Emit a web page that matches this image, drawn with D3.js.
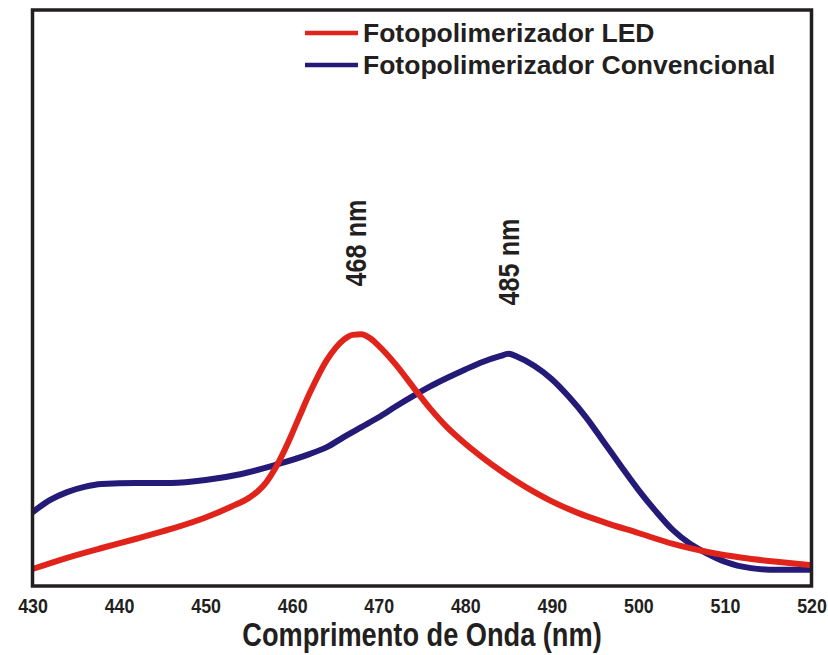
<!DOCTYPE html>
<html>
<head>
<meta charset="utf-8">
<script src="https://cdn.jsdelivr.net/npm/d3@7"></script>
<style>
  body { margin: 0; background: #fff; }
  svg { display: block; font-family: "Liberation Sans", Arial, sans-serif; font-weight: bold; }
</style>
</head>
<body>
<div id="chart"></div>
<script>
// wavelength (nm) and relative intensity
const ledNm = [430, 434, 438, 442, 446, 450, 453, 455, 456, 457, 458, 459, 460, 461, 462, 463, 464, 465, 466, 467, 468, 469, 470, 472, 474, 476, 478, 480, 482, 484, 486, 488, 490, 493, 496, 500, 504, 508, 512, 516, 520]
const ledVal = [2.95, 4.9, 6.6, 8.2, 9.9, 11.9, 13.8, 15.3, 16.4, 18.0, 20.3, 23.2, 26.5, 30.0, 33.4, 36.5, 39.2, 41.3, 42.8, 43.6, 43.7, 43.0, 41.7, 38.4, 34.5, 30.7, 27.4, 24.7, 22.3, 20.1, 18.1, 16.3, 14.7, 12.7, 11.1, 9.2, 7.3, 5.9, 4.9, 4.2, 3.6]

const convNm = [430, 432, 434, 436, 438, 442, 446, 450, 454, 458, 462, 464, 466, 468, 470, 472, 474, 476, 478, 480, 482, 484, 485, 486, 488, 490, 492, 494, 496, 498, 500, 502, 504, 506, 508, 510, 513, 516, 520]
const convVal = [12.8, 14.9, 16.3, 17.2, 17.7, 17.9, 17.9, 18.4, 19.4, 21.0, 22.9, 24.1, 25.9, 27.6, 29.3, 31.2, 33.0, 34.7, 36.2, 37.6, 38.9, 39.9, 40.3, 39.8, 38.2, 35.9, 32.8, 29.2, 25.0, 20.8, 16.7, 13.0, 9.7, 7.3, 5.6, 4.2, 3.1, 2.8, 2.8]

const xTicks = [430, 440, 450, 460, 470, 480, 490, 500, 510, 520]
const seriesNames = ['Fotopolimerizador LED', 'Fotopolimerizador Convencional']
const peaks = [468, 485]
const peakLabels = ['468 nm', '485 nm']

const width = 828
const height = 655
const box = { left: 32.5, right: 811.5, top: 10, bottom: 586 }
const red = '#e1241b'
const blue = '#241a78'
const ink = '#231f20'

const svg = d3.select('#chart')
  .append('svg')
  .attr('width', width)
  .attr('height', height)

const xScale = d3.scaleLinear()
  .domain([430, 520])
  .range([box.left, box.right])

const yScale = d3.scaleLinear()
  .domain([0, 100])
  .range([box.bottom, box.top])

const line = d3.line()
  .x(d => xScale(d[0]))
  .y(d => yScale(d[1]))
  .curve(d3.curveMonotoneX)

const convData = convNm.map((n, i) => [n, convVal[i]])
const ledData = ledNm.map((n, i) => [n, ledVal[i]])

svg.append('path')
  .datum(convData)
  .attr('d', line)
  .attr('fill', 'none')
  .attr('stroke', blue)
  .attr('stroke-width', 6)

svg.append('path')
  .datum(ledData)
  .attr('d', line)
  .attr('fill', 'none')
  .attr('stroke', red)
  .attr('stroke-width', 6)

// frame
svg.append('rect')
  .attr('x', box.left)
  .attr('y', box.top)
  .attr('width', box.right - box.left)
  .attr('height', box.bottom - box.top)
  .attr('fill', 'none')
  .attr('stroke', ink)
  .attr('stroke-width', 3.5)

// x axis, labels only
const xAxis = d3.axisBottom(xScale)
  .tickValues(xTicks)
  .tickSize(0)
  .tickPadding(0)
  .tickFormat(d3.format('d'))

const axisG = svg.append('g')
  .attr('transform', `translate(0, ${box.bottom})`)
  .call(xAxis)
axisG.select('.domain').remove()
axisG.selectAll('.tick text')
  .attr('y', 0)
  .attr('dy', 0)
  .attr('fill', ink)
  .attr('font-size', 21)
  .attr('font-weight', 'bold')
  .attr('font-family', '"Liberation Sans", Arial, sans-serif')
  .attr('transform', 'translate(0, 27) scale(0.85, 1)')

svg.append('text')
  .attr('transform', `translate(${(box.left + box.right) / 2}, 646) scale(0.8, 1)`)
  .attr('text-anchor', 'middle')
  .attr('font-size', 34)
  .attr('fill', ink)
  .text('Comprimento de Onda (nm)')

// peak labels
svg.selectAll('.peak')
  .data(peaks)
  .enter()
  .append('text')
  .attr('class', 'peak')
  .attr('transform', (d, i) => `translate(${xScale(d) + (i === 0 ? 5 : 10)}, ${i === 0 ? 243 : 262}) rotate(-90) scale(0.84, 1)`)
  .attr('text-anchor', 'middle')
  .attr('font-size', 30)
  .attr('fill', ink)
  .text((d, i) => peakLabels[i])

// legend
const legend = svg.append('g')
  .attr('transform', 'translate(305, 33)')

const legendColors = [red, blue]
seriesNames.forEach((name, i) => {
  const row = legend.append('g')
    .attr('transform', `translate(0, ${i * 32})`)
  row.append('line')
    .attr('x1', 0)
    .attr('x2', 53)
    .attr('y1', 0)
    .attr('y2', 0)
    .attr('stroke', legendColors[i])
    .attr('stroke-width', 4.5)
  row.append('text')
    .attr('x', 58)
    .attr('y', 9)
    .attr('font-size', 26.5)
    .attr('fill', ink)
    .text(name)
})
</script>
</body>
</html>
